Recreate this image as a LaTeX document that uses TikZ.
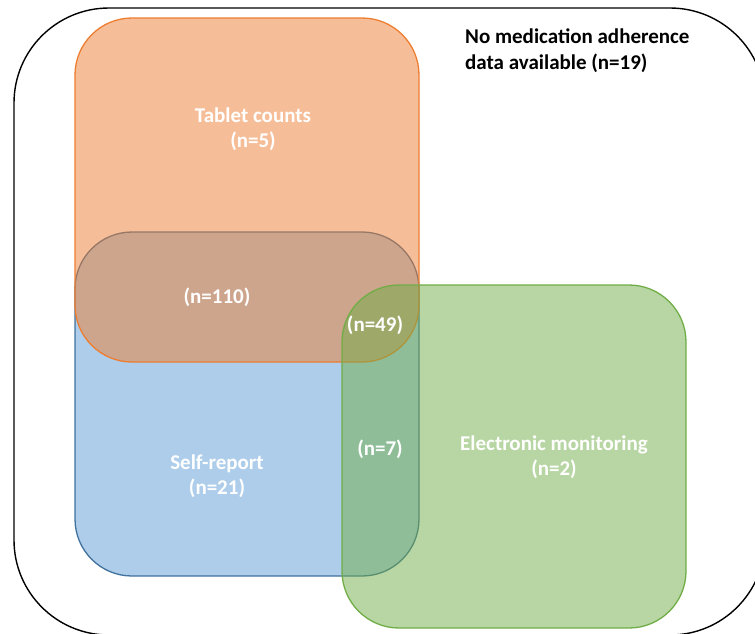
\documentclass[tikz,border=0pt]{standalone}
\usepackage{fontspec}
\setmainfont{Carlito}
\definecolor{oacc}{HTML}{ED7D31}
\definecolor{bacc}{HTML}{5B9BD5}
\definecolor{bline}{HTML}{41719C}
\definecolor{gacc}{HTML}{70AD47}
\begin{document}
\begin{tikzpicture}[x=1pt,y=-1pt,
  setbox/.style={rounded corners=57pt, line width=1.3pt, fill opacity=0.5},
  wlab/.style={text=white, font=\fontsize{21}{24.5}\selectfont\bfseries, align=center, inner sep=0pt},
  blab/.style={text=black, font=\fontsize{21}{26}\selectfont\bfseries, align=left, anchor=west, inner sep=0pt}
]
\useasboundingbox (0,0) rectangle (755,633);
\clip (0,0) rectangle (755,633);
\draw[line width=1.4pt, rounded corners=95pt] (14,8) rectangle (765,635);
\path[setbox, fill=bacc, draw=bline, draw opacity=1] (75,232) rectangle (419,576);
\path[setbox, fill=oacc, draw=oacc, draw opacity=1] (75,18) rectangle (419,362);
\path[setbox, fill=gacc, draw=gacc, draw opacity=1] (342,285) rectangle (686,628);
\node[blab] (none) at (465,51) {No medication adherence\\data available (n=19)};
\node[wlab] (tab) at (253,129) {Tablet counts\\(n=5)};
\node[wlab] (tb) at (217,297) {(n=110)};
\node[wlab] (tbe) at (375,325) {(n=49)};
\node[wlab] (be) at (380,449) {(n=7)};
\node[wlab] (self) at (217,476) {Self-report\\(n=21)};
\node[wlab] (elec) at (554,457) {Electronic monitoring\\(n=2)};
\end{tikzpicture}
\end{document}
